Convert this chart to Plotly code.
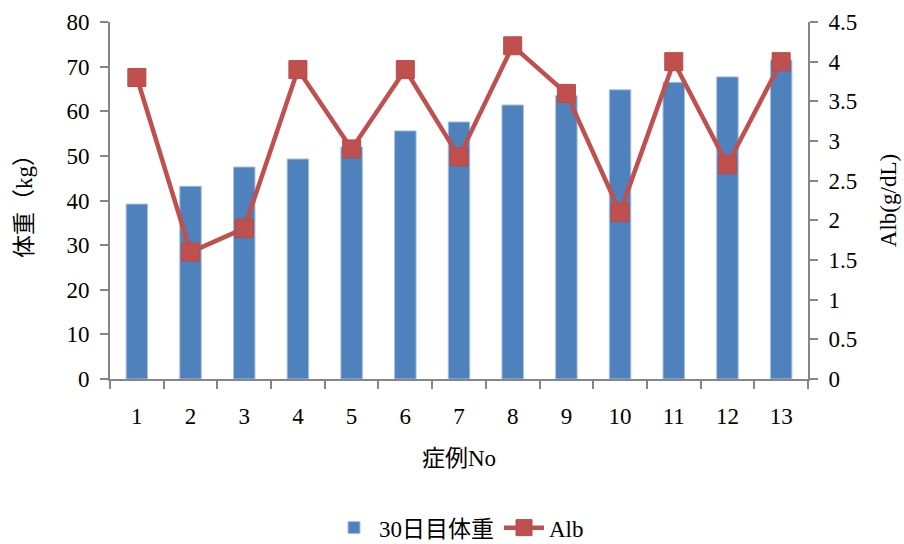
import plotly.graph_objects as go

# Case numbers and measured values
cases = ["1", "2", "3", "4", "5", "6", "7", "8", "9", "10", "11", "12", "13"]
weight_day30 = [39.2, 43.2, 47.5, 49.3, 52.0, 55.6, 57.6, 61.4, 63.5, 64.8, 66.5, 67.7, 71.5]
alb = [3.8, 1.6, 1.9, 3.9, 2.9, 3.9, 2.8, 4.2, 3.6, 2.1, 4.0, 2.7, 4.0]

FONT = "Liberation Serif, DejaVu Serif, Noto Sans CJK JP, serif"
AXIS_GRAY = "#868686"
FS = 23

fig = go.Figure()
fig.add_trace(go.Bar(
    x=cases, y=weight_day30, name="30日目体重",
    marker=dict(color="#4F81BD", line=dict(color="#A7C0DE", width=1)),
))
fig.add_trace(go.Scatter(
    x=cases, y=alb, name="Alb", yaxis="y2", mode="lines+markers",
    line=dict(color="#C0504D", width=4.5),
    marker=dict(symbol="square", size=18, color="#C0504D",
                line=dict(color="#B84A47", width=1)),
))

fig.update_layout(
    width=904, height=544,
    margin=dict(l=110, r=96, t=22, b=165),
    plot_bgcolor="white", paper_bgcolor="white",
    font=dict(family=FONT, size=FS, color="#000000"),
    bargap=0.6,
    showlegend=True,
    legend=dict(orientation="h", x=0.5, xanchor="center",
                yref="container", y=0.03, yanchor="middle",
                font=dict(size=FS), itemwidth=40),
    xaxis=dict(
        title=dict(text="症例No", font=dict(size=FS), standoff=22),
        range=[-0.5, len(cases) - 0.5],
        showline=True, linecolor=AXIS_GRAY, linewidth=2,
        ticks="outside", tickson="boundaries", ticklen=8, tickcolor=AXIS_GRAY, tickwidth=1.5,
        showgrid=False, tickfont=dict(size=FS), ticklabelstandoff=15, automargin=False,
    ),
    yaxis=dict(
        title=dict(text="体重（kg）", font=dict(size=FS), standoff=27),
        range=[0, 80], dtick=10,
        showline=True, linecolor=AXIS_GRAY, linewidth=2,
        ticks="outside", ticklen=8, tickcolor=AXIS_GRAY, tickwidth=1.5,
        showgrid=False, zeroline=False, tickfont=dict(size=FS), ticklabelstandoff=6,
        automargin=False,
    ),
    yaxis2=dict(
        title=dict(text="Alb(g/dL)", font=dict(size=FS), standoff=24),
        range=[0, 4.5], dtick=0.5, overlaying="y", side="right",
        showline=True, linecolor=AXIS_GRAY, linewidth=2,
        ticks="outside", ticklen=8, tickcolor=AXIS_GRAY, tickwidth=1.5,
        showgrid=False, zeroline=False, tickfont=dict(size=FS), ticklabelstandoff=6,
        automargin=False,
    ),
)

fig.write_html("out.html")
